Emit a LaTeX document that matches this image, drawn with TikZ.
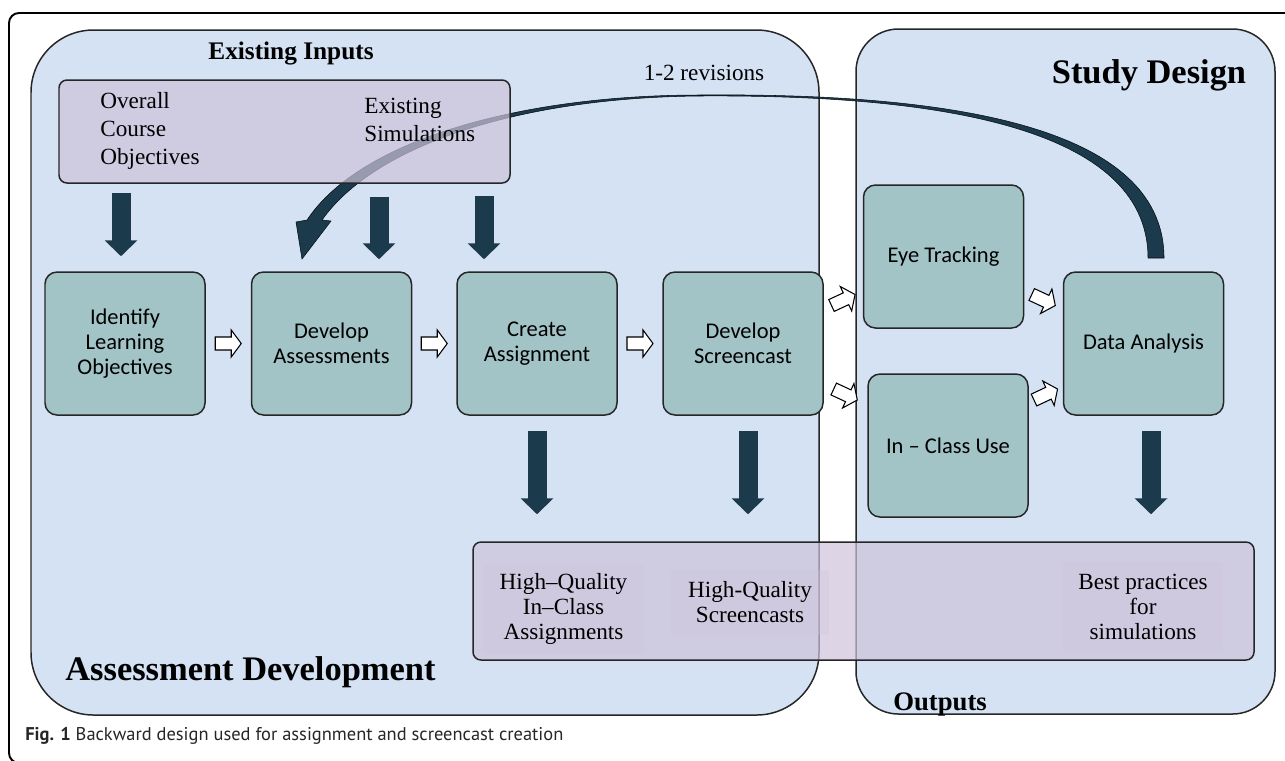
\documentclass[tikz,border=0pt]{standalone}
\usepackage{fontspec}
\setmainfont{Liberation Serif}
\newfontfamily\boxfont{Carlito}
\newfontfamily\capfont{PT Sans}
\usetikzlibrary{calc,arrows.meta}
\definecolor{panelblue}{RGB}{212,226,244}
\definecolor{tealbox}{RGB}{163,196,199}
\definecolor{darkteal}{RGB}{27,58,75}
\definecolor{lilac}{RGB}{206,195,218}

\begin{document}
\begin{tikzpicture}[y=-1cm]
\tikzset{frame/.style={draw=black,line width=1.1pt,rounded corners=0.2cm}}
\tikzset{panel/.style={draw=black!85,line width=0.85pt,fill=panelblue}}
\tikzset{listbox/.style={draw=black!85,line width=0.85pt,fill=lilac,fill opacity=0.7,rounded corners=0.16cm,inner sep=0pt}}
\tikzset{stepbox/.style={draw=black!85,line width=0.85pt,fill=tealbox,rounded corners=0.24cm,minimum width=3.2cm,minimum height=2.86cm,align=center,inner sep=0pt,font=\boxfont\fontsize{12.8pt}{14.4pt}\selectfont}}
\tikzset{darkarrow/.style={draw=darkteal,line width=0.38cm,-{Triangle[width=0.64cm,length=0.32cm]}}}
\tikzset{plain/.style={inner sep=0pt,font=\fontsize{13.2pt}{15.9pt}\selectfont}}
\tikzset{outtext/.style={inner sep=0pt,align=center,fill=lilac,fill opacity=0.3,text opacity=1,font=\fontsize{13.2pt}{14.2pt}\selectfont}}
\tikzset{heading/.style={inner sep=0pt,font=\bfseries\fontsize{19.6pt}{22pt}\selectfont}}
\tikzset{warrow/.pic={\path[draw=black,fill=white,line width=0.6pt] (-0.26,-0.13) -- (0.06,-0.13) -- (0.06,-0.27) -- (0.26,0) -- (0.06,0.27) -- (0.06,0.13) -- (-0.26,0.13) -- cycle;}}

\useasboundingbox (0,0) rectangle (25.7,15.2);
\clip (0,0) rectangle (25.7,15.2);

\path[frame] (0.18,0.26) rectangle (26.2,15.26);

\path[panel,rounded corners=1.25cm] (0.62,0.6) rectangle (16.38,14.3);
\path[panel,rounded corners=0.85cm] (17.12,0.58) rectangle (25.5,14.28);

\path[fill=darkteal,draw=black!80!darkteal,line width=0.3pt] (22.96,5.16) .. controls (22.96,2.5) and (18.6,1.89) .. (14.0,1.92) .. controls (10.4,1.95) and (7.5,2.9) .. (6.44,4.4) -- (6.62,4.42) -- (6.04,5.18) -- (5.92,4.44) -- (6.14,4.4) .. controls (7.2,2.8) and (10.4,1.9) .. (14.0,1.9) .. controls (18.6,1.86) and (23.28,2.4) .. (23.28,5.16) -- cycle;
\node[plain] (revs) at (14.08,1.46) {1-2 revisions};

\node[listbox,minimum width=9.02cm,minimum height=2.06cm] (inputs) at (5.69,2.63) {};
\node[listbox,minimum width=15.62cm,minimum height=2.36cm] (outputs) at (17.27,12.02) {};

\node[inner sep=0pt,font=\bfseries\fontsize{14.4pt}{17pt}\selectfont] (exin) at (5.82,1.08) {Existing Inputs};
\node[heading] (study) at (22.98,1.5) {Study Design};
\node[heading,anchor=base west] (asdev) at (1.3,13.6) {Assessment Development};
\node[inner sep=0pt,font=\bfseries\fontsize{15.2pt}{17pt}\selectfont,anchor=base west] (outp) at (17.86,14.2) {Outputs};

\node[plain,align=left,anchor=west] (overall) at (2.0,2.62) {Overall\\Course\\Objectives};
\node[plain,align=left,anchor=west] (sims) at (7.28,2.4) {Existing\\Simulations};

\node[outtext,minimum width=3.22cm,minimum height=1.8cm] (hqa) at (11.27,12.18) {High–Quality\\In–Class\\Assignments};
\node[outtext,minimum width=3.16cm,minimum height=1.3cm] (hqs) at (15.0,12.05) {High-Quality\\Screencasts};
\node[outtext,minimum width=3.2cm,minimum height=1.8cm] (best) at (22.86,12.14) {Best practices\\for\\simulations};

\node[stepbox] (ident) at (2.5,6.87) {Identify\\Learning\\Objectives};
\node[stepbox] (assess) at (6.63,6.87) {Develop\\Assessments};
\node[stepbox] (create) at (10.74,6.87) {Create\\Assignment};
\node[stepbox] (screen) at (14.86,6.87) {Develop\\Screencast};
\node[stepbox] (eye) at (18.87,5.13) {Eye Tracking};
\node[stepbox] (inclass) at (18.96,8.91) {In – Class Use};
\node[stepbox] (data) at (22.87,6.87) {Data Analysis};

\draw[darkarrow] ($(inputs.south -| ident.north)+(-0.08,0.18)$) -- ($(ident.north)+(-0.08,-0.3)$);
\draw[darkarrow] ($(inputs.south -| assess.north)+(0.95,0.26)$) -- ($(assess.north)+(0.95,-0.24)$);
\draw[darkarrow] ($(inputs.south -| create.north)+(-1.06,0.24)$) -- ($(create.north)+(-1.06,-0.24)$);
\draw[darkarrow] ($(create.south)+(0,0.3)$) -- ($(create.south |- outputs.north)+(0,-0.54)$);
\draw[darkarrow] ($(screen.south)+(0.1,0.3)$) -- ($(screen.south |- outputs.north)+(0.1,-0.54)$);
\draw[darkarrow] ($(data.south)+(0.15,0.3)$) -- ($(data.south |- outputs.north)+(0.15,-0.54)$);

\pic at ($(ident.east)!0.5!(assess.west)$) {warrow};
\pic at ($(assess.east)!0.5!(create.west)$) {warrow};
\pic at ($(create.east)!0.5!(screen.west)$) {warrow};
\pic[rotate=25] at ($(screen.east)!0.5!(eye.west)$) {warrow};
\pic[rotate=-25] at ($(screen.east)!0.5!(inclass.west)$) {warrow};
\pic[rotate=-25] at ($(eye.east)!0.5!(data.west)$) {warrow};
\pic[rotate=25] at ($(inclass.east)!0.5!(data.west)$) {warrow};

\node[anchor=base west,inner sep=0pt,text=black!85,font=\capfont\fontsize{10.5pt}{12pt}\selectfont] (caption) at (0.5,14.8) {\textbf{Fig. 1} Backward design used for assignment and screencast creation};
\end{tikzpicture}
\end{document}
